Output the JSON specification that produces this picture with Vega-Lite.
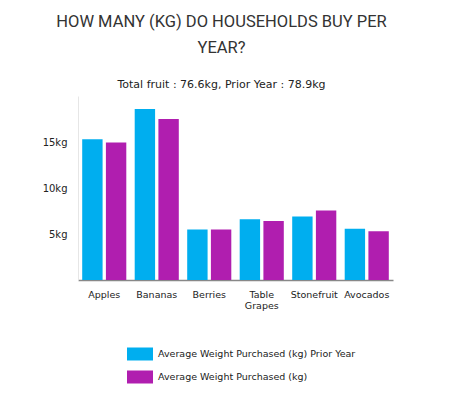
{
  "$schema": "https://vega.github.io/schema/vega-lite/v6.json",
  "autosize": {"type": "none"},
  "width": 315,
  "height": 184,
  "padding": {"left": 78, "top": 96, "right": 67, "bottom": 114},
  "background": "white",
  "title": {
    "text": ["HOW MANY (KG) DO HOUSEHOLDS BUY PER", "YEAR?"],
    "subtitle": "Total fruit : 76.6kg, Prior Year : 78.9kg",
    "font": "Roboto",
    "fontSize": 16.5,
    "fontWeight": "normal",
    "lineHeight": 26,
    "color": "#333333",
    "subtitleFont": "DejaVu Sans",
    "subtitleFontSize": 11,
    "subtitleColor": "#222222",
    "subtitlePadding": 23,
    "anchor": "middle",
    "dx": -14,
    "offset": 6
  },
  "data": {
    "values": [
      {"fruit": "Apples", "series": "Average Weight Purchased (kg) Prior Year", "kg": 15.3},
      {"fruit": "Apples", "series": "Average Weight Purchased (kg)", "kg": 14.95},
      {"fruit": "Bananas", "series": "Average Weight Purchased (kg) Prior Year", "kg": 18.6},
      {"fruit": "Bananas", "series": "Average Weight Purchased (kg)", "kg": 17.5},
      {"fruit": "Berries", "series": "Average Weight Purchased (kg) Prior Year", "kg": 5.5},
      {"fruit": "Berries", "series": "Average Weight Purchased (kg)", "kg": 5.5},
      {"fruit": "Table Grapes", "series": "Average Weight Purchased (kg) Prior Year", "kg": 6.6},
      {"fruit": "Table Grapes", "series": "Average Weight Purchased (kg)", "kg": 6.4},
      {"fruit": "Stonefruit", "series": "Average Weight Purchased (kg) Prior Year", "kg": 6.9},
      {"fruit": "Stonefruit", "series": "Average Weight Purchased (kg)", "kg": 7.55},
      {"fruit": "Avocados", "series": "Average Weight Purchased (kg) Prior Year", "kg": 5.57},
      {"fruit": "Avocados", "series": "Average Weight Purchased (kg)", "kg": 5.3}
    ]
  },
  "mark": {"type": "bar"},
  "encoding": {
    "x": {
      "field": "fruit",
      "type": "nominal",
      "sort": null,
      "scale": {"paddingInner": 0.16, "paddingOuter": 0.08},
      "axis": {
        "title": null,
        "labelAngle": 0,
        "ticks": false,
        "domainColor": "#888888",
        "domainWidth": 1.5,
        "labelFont": "DejaVu Sans",
        "labelFontSize": 9.5,
        "labelColor": "#222222",
        "labelPadding": 9,
        "labelExpr": "datum.label == 'Table Grapes' ? ['Table', 'Grapes'] : datum.label"
      }
    },
    "xOffset": {
      "field": "series",
      "type": "nominal",
      "sort": ["Average Weight Purchased (kg) Prior Year", "Average Weight Purchased (kg)"],
      "scale": {"paddingInner": 0.14}
    },
    "y": {
      "field": "kg",
      "type": "quantitative",
      "scale": {"domain": [0, 20]},
      "axis": {
        "title": null,
        "values": [5, 10, 15],
        "labelExpr": "datum.value + 'kg'",
        "grid": false,
        "ticks": false,
        "domainColor": "#e6e6e6",
        "labelFont": "DejaVu Sans",
        "labelFontSize": 10,
        "labelColor": "#222222",
        "labelPadding": 11
      }
    },
    "color": {
      "field": "series",
      "type": "nominal",
      "sort": ["Average Weight Purchased (kg) Prior Year", "Average Weight Purchased (kg)"],
      "scale": {"range": ["#00AEEF", "#B01EAF"]},
      "legend": {
        "title": null,
        "orient": "none",
        "legendX": 49,
        "legendY": 245,
        "symbolType": "M-1,-0.5H1V0.5H-1Z",
        "symbolSize": 676,
        "symbolStrokeWidth": 0,
        "symbolOpacity": 1,
        "labelFont": "DejaVu Sans",
        "labelFontSize": 9.5,
        "labelColor": "#222222",
        "labelOffset": 5,
        "labelLimit": 320,
        "rowPadding": 3
      }
    }
  },
  "config": {"view": {"stroke": null}}
}
